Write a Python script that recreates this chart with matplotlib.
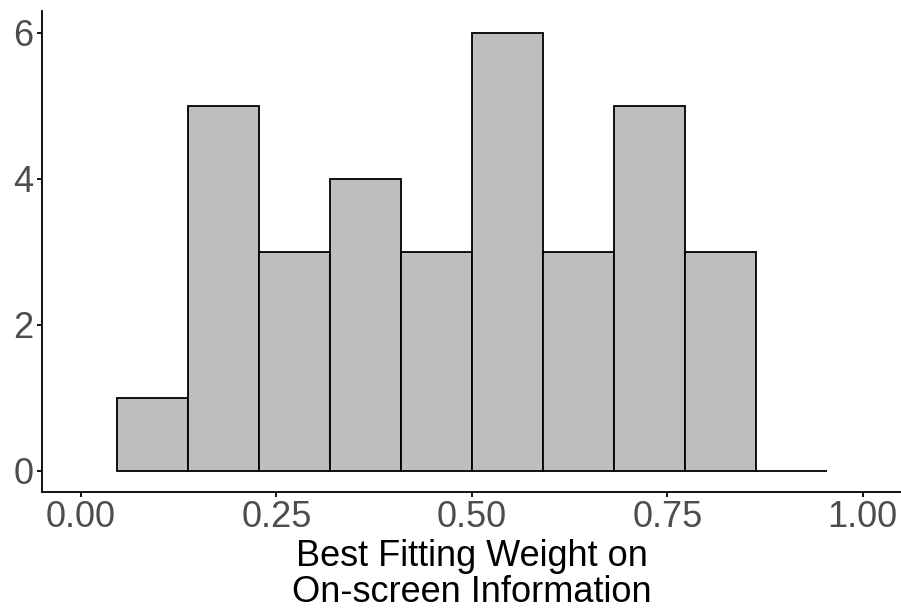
import matplotlib.pyplot as plt
import numpy as np

plt.rcParams['font.family'] = ['Liberation Sans', 'DejaVu Sans']

# histogram counts and bin edges
counts = [1, 5, 3, 4, 3, 6, 3, 5, 3, 0]
bin_start = 0.0464
bin_width = 0.0908
edges = bin_start + bin_width * np.arange(len(counts) + 1)

x_ticks = [0.0, 0.25, 0.5, 0.75, 1.0]
x_ticklabels = ['0.00', '0.25', '0.50', '0.75', '1.00']
y_ticks = [0, 2, 4, 6]
xlabel = 'Best Fitting Weight on\nOn-screen Information'

fig = plt.figure(figsize=(9.01, 6.11), dpi=100)
ax = fig.add_axes([42 / 901, 1 - 492 / 611, 859 / 901, 481 / 611])

ax.bar(edges[:-1], counts, width=np.diff(edges), align='edge',
       color='#bebebe', edgecolor='black', linewidth=1.3)

ax.set_xlim(-0.05, 1.049)
ax.set_ylim(-0.29, 6.3)
ax.set_xticks(x_ticks)
ax.set_xticklabels(x_ticklabels)
ax.set_yticks(y_ticks)

for s in ['top', 'right']:
    ax.spines[s].set_visible(False)
for s in ['left', 'bottom']:
    ax.spines[s].set_linewidth(1.3)

ax.tick_params(axis='both', labelsize=26, labelcolor='#4d4d4d',
               length=3.6, width=1.3, pad=2.5)
ax.set_xlabel(xlabel, fontsize=26, color='black', labelpad=2.5, linespacing=1.05)

fig.savefig('out.png', dpi=100)
